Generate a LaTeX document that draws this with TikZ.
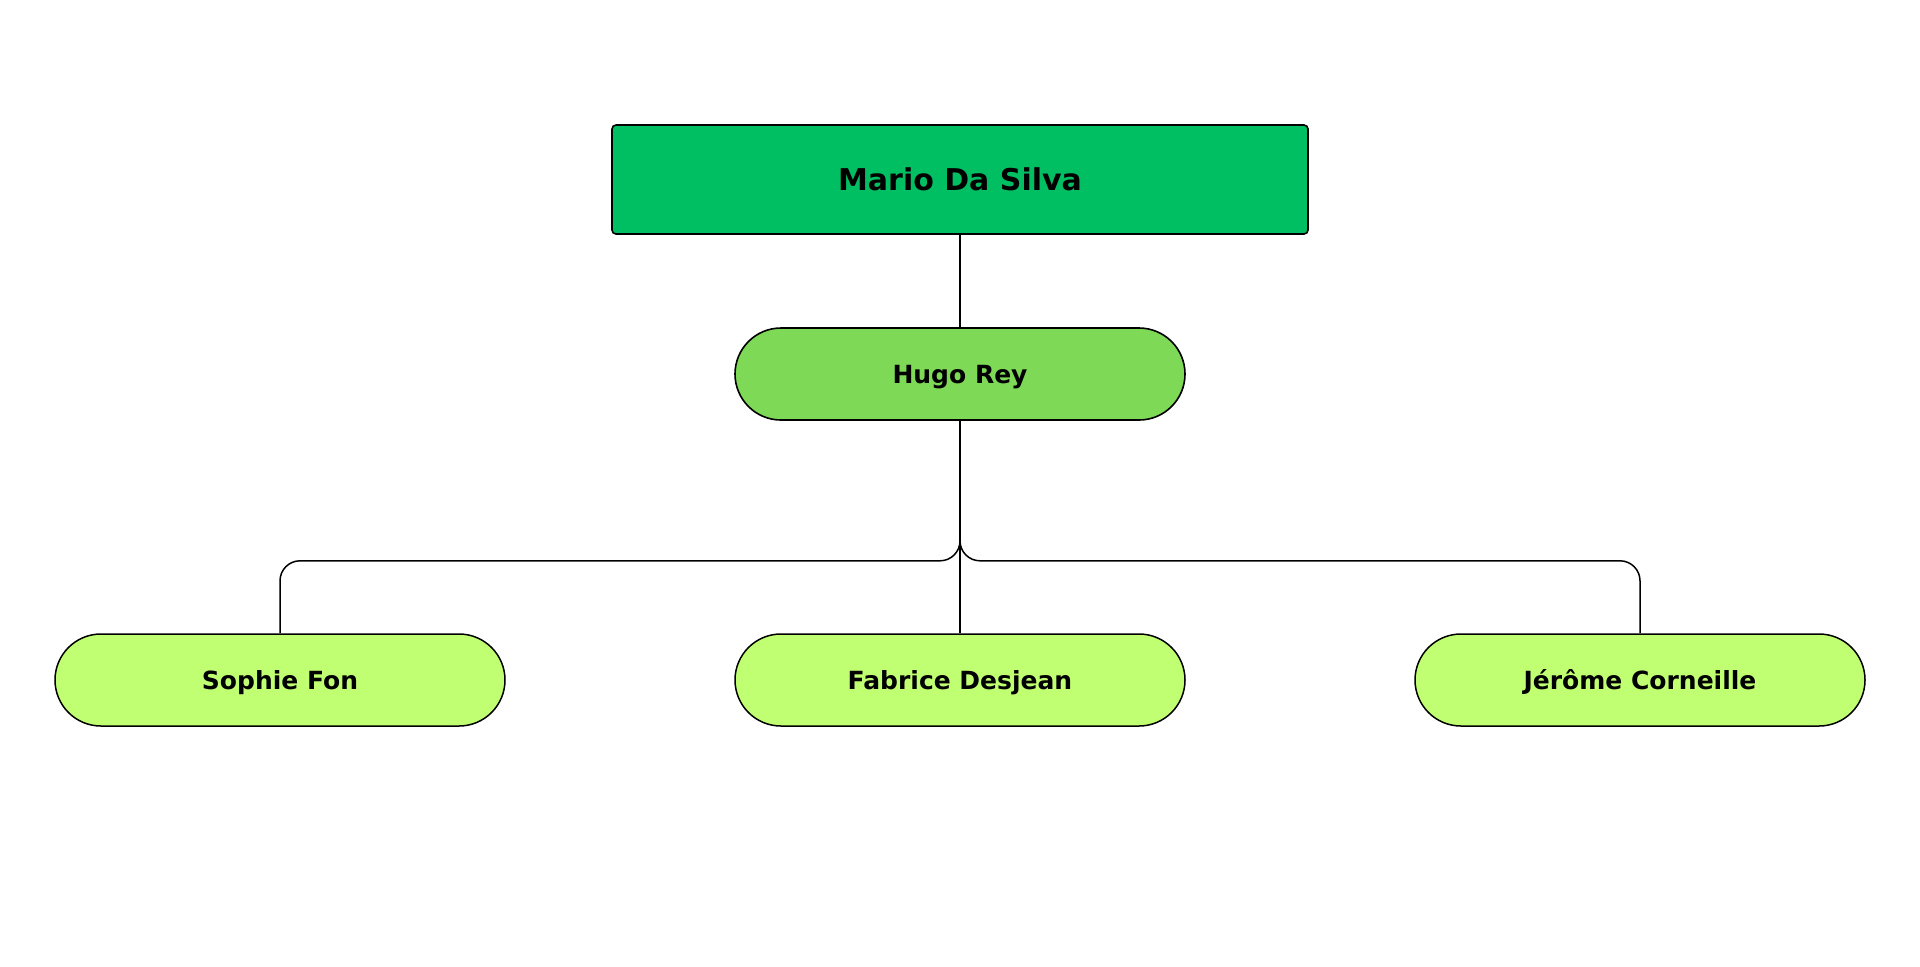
\documentclass[tikz,border=0pt]{standalone}
\usepackage{fontspec}
\setmainfont{DejaVu Sans}
\usepackage{tikz}
\definecolor{bossgreen}{HTML}{00BF63}
\definecolor{leadgreen}{HTML}{7ED957}
\definecolor{membergreen}{HTML}{C1FF72}

\begin{document}
\begin{tikzpicture}[line width=0.8pt,
        boss/.style = {shape=rectangle, rounded corners=2pt, draw,
                       fill=bossgreen, inner sep=0pt,
                       minimum width=348pt, minimum height=54.5pt,
                       text height=10.9pt, text depth=0pt,
                       font=\bfseries\fontsize{15}{18}\selectfont},
        member/.style = {shape=rectangle, rounded corners=23pt, draw,
                         fill=membergreen, inner sep=0pt,
                         minimum width=225pt, minimum height=46pt,
                         text height=9.1pt, text depth=0pt,
                         font=\bfseries\fontsize{12.5}{15}\selectfont},
        lead/.style = {member, fill=leadgreen},
        level 1/.style = {level distance=97.25pt},
        level 2/.style = {level distance=153pt, sibling distance=340pt,
                          edge from parent path={(\tikzparentnode.south) -- ++(0,-70pt) -| (\tikzchildnode.north)}},
        edge from parent/.style = {draw, line width=0.75pt, rounded corners=10pt}]
    \useasboundingbox (0,0) rectangle (960pt,-483pt);
    \node[boss] (mario) at (480pt,-89.75pt) {Mario Da Silva}
        child { node[lead] (hugo) {Hugo Rey}
            child { node[member] (sophie) {Sophie Fon} }
            child { node[member] (fabrice) {Fabrice Desjean} }
            child { node[member] (jerome) {Jérôme Corneille} }
        };
\end{tikzpicture}
\end{document}
